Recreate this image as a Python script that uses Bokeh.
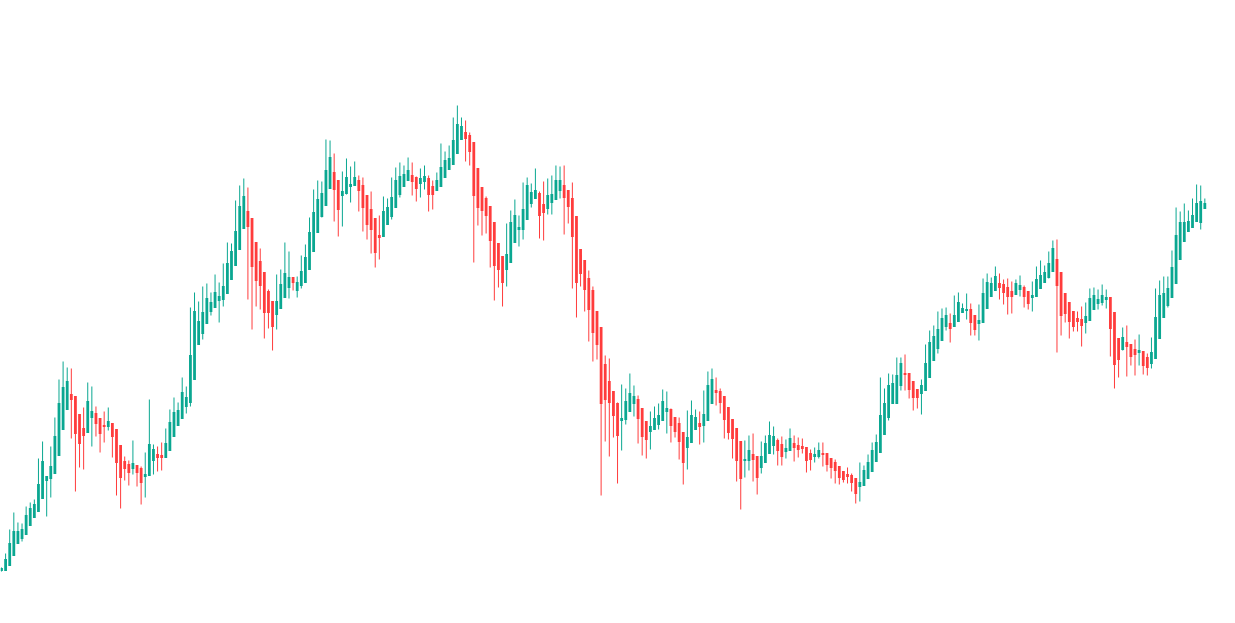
from bokeh.plotting import figure
from bokeh.models import ColumnDataSource, Range1d
from bokeh.embed import file_html
from bokeh.resources import INLINE

open_ = [30,30,35,45,57,62,66,75,83,89,102,120,122,127,145,171,191,206,204,186,
         172,168,183,187,182,175,174,177,171,155,139,136,132,135,132,124,125,140,146,145,
         143,150,164,175,182,194,198,221,256,267,277,289,293,300,301,307,321,335,351,372,
         389,382,358,339,328,309,299,286,292,303,313,323,310,315,318,331,349,368,384,395,
         412,428,420,405,407,414,415,420,415,405,391,382,365,364,376,384,393,406,414,420,
         425,423,417,419,422,414,410,414,423,431,436,447,461,468,465,458,432,413,402,394,
         378,357,344,331,338,358,371,371,381,397,402,407,396,392,398,401,410,415,410,402,
         384,351,340,322,310,289,273,236,219,209,197,180,181,189,197,201,192,179,169,171,
         176,180,189,191,183,177,168,153,158,171,177,175,180,197,210,209,204,193,181,172,
         159,140,140,146,144,133,138,147,155,160,156,149,150,157,155,154,153,147,144,144,
         147,147,142,138,134,129,126,125,122,114,115,122,129,139,148,166,183,197,197,215,
         227,227,219,211,207,210,223,240,252,260,274,277,274,279,288,290,291,285,277,278,
         292,304,310,317,316,313,309,306,311,313,309,303,304,312,318,323,329,341,328,307,
         298,289,282,281,278,280,291,297,298,301,303,288,262,251,258,256,251,248,249,243,
         237,242,262,283,295,303,317,341,359,369,373,379,378,392]
high = [33,47,71,88,78,77,94,98,101,142,159,124,154,183,221,239,233,232,204,186,
        193,218,214,194,182,189,193,177,171,155,144,140,160,135,134,148,201,156,154,158,
        172,191,203,198,223,214,293,308,299,314,317,308,326,318,337,358,357,400,415,422,
        413,382,358,352,328,311,299,326,331,358,349,323,324,345,356,383,411,420,419,461,
        460,447,420,429,442,434,439,425,423,405,409,382,385,404,402,423,433,438,435,443,
        438,424,432,435,425,420,428,457,449,455,483,495,483,480,468,458,432,413,404,394,
        378,357,344,377,390,401,385,418,423,417,432,409,419,422,425,435,434,435,410,418,
        384,351,340,330,314,289,273,245,242,209,198,216,212,227,215,205,192,179,189,194,
        197,211,209,192,183,183,168,190,200,191,189,210,229,232,223,212,204,193,181,172,
        159,160,165,167,144,159,165,179,174,162,164,161,172,165,163,162,153,151,153,158,
        158,147,142,141,134,129,133,127,122,138,135,146,158,166,223,212,227,226,243,243,
        246,227,219,211,221,256,270,275,289,292,293,287,305,308,297,307,297,285,296,322,
        327,323,334,327,321,322,319,321,325,315,309,319,334,340,335,349,360,361,328,307,
        298,289,289,294,298,312,313,311,316,311,303,288,262,273,275,256,261,266,249,247,
        263,312,320,324,324,350,393,389,397,390,402,416,415,402]
low = [29,30,35,45,57,59,66,75,83,89,102,84,103,127,145,171,191,162,109,133,
       131,168,154,164,148,158,170,143,105,92,120,115,126,114,96,103,125,126,129,130,
       143,150,164,175,182,187,194,221,256,261,277,285,293,278,294,307,321,335,351,372,
       301,271,294,291,262,272,250,271,292,303,302,310,303,312,318,331,349,368,383,395,
       412,379,364,374,406,398,415,389,369,361,347,333,341,364,376,381,393,403,414,420,
       405,399,403,411,389,391,410,414,423,431,436,447,461,439,435,338,375,365,367,333,
       300,313,294,314,338,358,354,361,381,393,402,362,360,386,386,401,402,366,377,312,
       283,314,289,259,239,241,105,159,144,163,117,150,176,189,184,157,145,142,151,171,
       171,180,167,158,163,141,116,131,158,171,156,158,180,197,195,187,162,161,142,119,
       91,123,130,119,106,127,138,147,146,135,135,142,150,139,143,147,128,130,138,142,
       134,129,122,117,116,118,117,109,97,99,115,122,129,139,148,166,180,197,197,210,
       210,202,190,192,186,210,223,240,247,260,270,258,274,279,288,281,265,265,260,278,
       292,304,310,301,296,286,287,306,304,293,291,289,304,312,318,322,329,248,265,278,
       262,269,269,254,267,280,291,291,295,292,244,212,223,250,224,235,225,235,226,225,
       232,242,262,283,293,303,317,341,359,369,373,379,371,392]
close = [32,41,57,69,69,71,85,92,96,116,139,124,134,164,197,213,219,201,167,157,
         165,199,189,177,167,174,179,164,138,123,132,128,137,128,118,126,156,151,143,143,
         157,178,188,190,208,203,245,289,279,288,302,298,308,304,314,337,349,369,394,404,
         374,334,320,315,288,288,274,299,316,327,323,318,318,329,343,368,388,401,407,430,
         443,411,391,409,423,416,423,410,393,376,371,348,363,389,393,403,420,424,426,430,
         419,412,422,424,406,406,420,433,440,442,460,476,474,462,449,405,393,390,385,360,
         335,331,318,346,378,385,373,391,415,408,410,385,388,405,406,420,420,403,394,364,
         318,327,311,291,268,256,197,201,198,185,165,182,199,207,204,182,164,161,174,182,
         185,199,192,175,169,159,138,163,185,183,174,186,215,221,208,198,181,168,162,140,
         122,141,150,141,123,144,157,165,164,150,144,152,162,153,151,152,140,141,146,150,
         146,136,133,130,123,121,124,118,107,118,130,138,150,158,185,197,215,217,225,237,
         226,211,203,203,215,237,258,264,271,282,285,272,285,298,292,291,278,271,280,307,
         318,317,324,313,308,304,304,317,315,304,297,305,321,325,328,337,352,315,285,287,
         279,274,279,275,284,302,305,301,305,303,272,236,241,263,254,244,246,250,235,233,
         248,283,305,307,312,333,365,378,378,379,385,397,399,397]

UP = "#0aa791"
DOWN = "#ff3c3c"

n = len(close)
idx = list(range(n))
colors = [UP if c >= o else DOWN for o, c in zip(open_, close)]
body_top = [max(o, c) + 0.5 for o, c in zip(open_, close)]
body_bot = [min(o, c) - 0.5 for o, c in zip(open_, close)]

src = ColumnDataSource(dict(x=idx, o=open_, h=high, l=low, c=close,
                            top=body_top, bot=body_bot, col=colors))

p = figure(width=1227, height=615,
           x_range=Range1d(-0.2435, 298.52), y_range=Range1d(-15, 600),
           output_backend="svg", toolbar_location=None,
           x_axis_location=None, y_axis_location=None,
           min_border=0, outline_line_color=None,
           background_fill_color="white", border_fill_color="white")
p.grid.visible = False

p.segment(x0="x", y0="h", x1="x", y1="l", source=src, line_color="col", line_width=1)
p.vbar(x="x", top="top", bottom="bot", width=0.68, source=src,
       fill_color="col", line_color=None)

open("out.html", "w").write(file_html(p, INLINE))
